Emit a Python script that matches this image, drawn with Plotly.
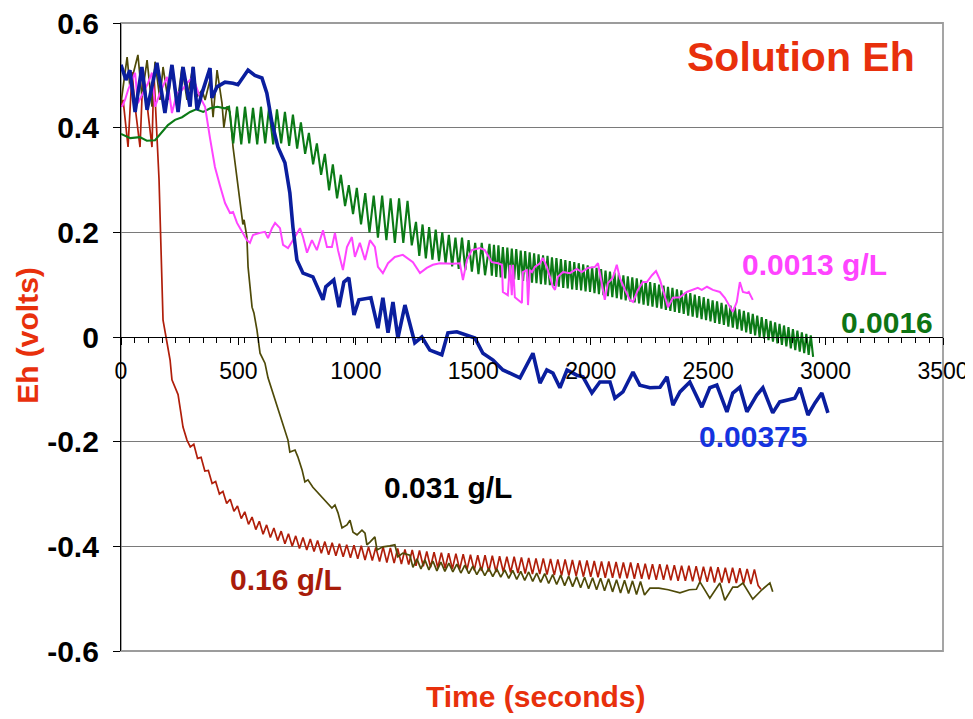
import plotly.graph_objects as go

# ---------------- data (time in s, Eh in volts) ----------------
x_ticks = [0, 500, 1000, 1500, 2000, 2500, 3000, 3500]
x_tick_labels = ["0", "500", "1000", "1500", "2000", "2500", "3000", "3500"]
y_ticks = [0.6, 0.4, 0.2, 0.0, -0.2, -0.4, -0.6]
y_tick_labels = ["0.6", "0.4", "0.2", "0", "-0.2", "-0.4", "-0.6"]

series_names = ["0.16 g/L", "0.031 g/L", "0.0016 g/L", "0.0013 g/L", "0.00375 g/L"]

blue_pts = [
    (0, 0.52), (21, 0.491), (38, 0.51), (60, 0.43), (89, 0.516), (111, 0.434), (153, 0.524),
    (187, 0.428), (217, 0.52), (243, 0.43), (264, 0.516), (294, 0.44), (307, 0.516), (324, 0.434),
    (345, 0.466), (379, 0.514), (387, 0.457), (409, 0.478), (443, 0.487), (477, 0.485), (498, 0.482),
    (541, 0.51), (570, 0.50), (600, 0.495), (621, 0.466), (643, 0.409), (668, 0.363), (698, 0.333),
    (719, 0.275), (732, 0.21), (749, 0.147), (775, 0.122), (817, 0.115), (860, 0.071), (872, 0.096),
    (906, 0.109), (928, 0.057), (949, 0.105), (970, 0.113), (992, 0.042), (1013, 0.071), (1064, 0.075),
    (1094, 0.017), (1115, 0.075), (1137, 0.008), (1158, 0.067), (1179, -0.002), (1209, 0.061),
    (1251, -0.011), (1281, 0.0), (1315, -0.025), (1366, -0.034), (1392, 0.008), (1430, 0.01),
    (1507, -0.002), (1541, -0.031), (1584, -0.044), (1626, -0.063), (1699, -0.078), (1728, -0.054),
    (1754, -0.031), (1784, -0.088), (1813, -0.063), (1839, -0.069), (1869, -0.097), (1899, -0.063),
    (1941, -0.073), (1967, -0.076), (2005, -0.107), (2039, -0.086), (2082, -0.086), (2103, -0.117),
    (2137, -0.105), (2180, -0.067), (2209, -0.092), (2252, -0.097), (2295, -0.096), (2325, -0.076),
    (2350, -0.130), (2380, -0.105), (2422, -0.086), (2473, -0.134), (2507, -0.097), (2537, -0.092),
    (2580, -0.143), (2605, -0.107), (2635, -0.096), (2665, -0.143), (2707, -0.111), (2733, -0.097),
    (2775, -0.145), (2805, -0.124), (2869, -0.117), (2891, -0.097), (2925, -0.149), (2955, -0.126),
    (2984, -0.107), (3010, -0.145),
]

magenta_pts = [
    (4, 0.44), (17, 0.453), (30, 0.472), (60, 0.505), (72, 0.447), (94, 0.466), (115, 0.485),
    (132, 0.505), (145, 0.44), (166, 0.466), (196, 0.497), (217, 0.428), (238, 0.466), (260, 0.472),
    (281, 0.485), (302, 0.495), (315, 0.485), (336, 0.459), (358, 0.44), (379, 0.38), (400, 0.325),
    (421, 0.29), (443, 0.256), (464, 0.237), (477, 0.239), (494, 0.218), (515, 0.201), (536, 0.185),
    (549, 0.18), (562, 0.195), (592, 0.199), (613, 0.201), (626, 0.189), (643, 0.208), (656, 0.218),
    (677, 0.208), (690, 0.176), (711, 0.17), (732, 0.185), (762, 0.208), (775, 0.191), (792, 0.161),
    (813, 0.185), (834, 0.166), (860, 0.204), (877, 0.172), (898, 0.172), (911, 0.199), (924, 0.166),
    (945, 0.128), (962, 0.172), (983, 0.191), (996, 0.153), (1017, 0.18), (1039, 0.147), (1060, 0.185),
    (1081, 0.172), (1094, 0.134), (1115, 0.122), (1137, 0.141), (1166, 0.153), (1200, 0.157),
    (1243, 0.143), (1273, 0.122), (1302, 0.132), (1328, 0.138), (1358, 0.141), (1413, 0.14),
    (1443, 0.141), (1456, 0.109), (1473, 0.147), (1494, 0.166), (1528, 0.17), (1549, 0.166),
    (1579, 0.143), (1605, 0.141), (1622, 0.138), (1626, 0.086), (1647, 0.080), (1656, 0.138),
    (1664, 0.080), (1669, 0.138), (1677, 0.076), (1690, 0.071), (1707, 0.065), (1711, 0.124),
    (1728, 0.128), (1733, 0.061), (1741, 0.128), (1750, 0.124), (1762, 0.134), (1784, 0.141),
    (1796, 0.151), (1813, 0.134), (1826, 0.113), (1839, 0.096), (1848, 0.09), (1860, 0.115),
    (1882, 0.124), (1911, 0.122), (1941, 0.13), (1962, 0.124), (1988, 0.132), (2018, 0.134),
    (2031, 0.141), (2048, 0.103), (2060, 0.071), (2073, 0.103), (2094, 0.113), (2111, 0.138),
    (2124, 0.113), (2146, 0.09), (2167, 0.071), (2180, 0.067), (2201, 0.09), (2222, 0.105),
    (2239, 0.105), (2261, 0.118), (2278, 0.126), (2295, 0.109), (2307, 0.09), (2329, 0.057),
    (2350, 0.075), (2380, 0.076), (2409, 0.086), (2435, 0.09), (2456, 0.094), (2473, 0.09),
    (2495, 0.096), (2520, 0.09), (2550, 0.086), (2571, 0.075), (2592, 0.057), (2605, 0.048),
    (2622, 0.067), (2635, 0.105), (2648, 0.086), (2665, 0.084), (2673, 0.086), (2690, 0.071),
]

green_pts = [
    (0, 0.388), (40, 0.38), (80, 0.382), (110, 0.375), (145, 0.376), (170, 0.39), (200, 0.405),
    (230, 0.415), (260, 0.42), (294, 0.43), (320, 0.435), (350, 0.43), (380, 0.437), (410, 0.44),
    (443, 0.437),
    (460, .44), (478, .37), (494, .44), (512, .368), (528, .44), (546, .37), (562, .438), (580, .368),
    (596, .44), (614, .37), (630, .437), (648, .368), (664, .435), (682, .37), (698, .43), (716, .365),
    (732, .425), (750, .36), (766, .41), (784, .35), (800, .39), (818, .33), (834, .37), (852, .31),
    (868, .35), (886, .28), (902, .33), (920, .265), (936, .31), (954, .25), (970, .29), (988, .235),
    (1004, .285), (1022, .215), (1040, .275), (1058, .20), (1076, .27), (1094, .19), (1112, .27),
    (1130, .185), (1148, .265), (1166, .18), (1184, .265), (1202, .18), (1220, .26), (1238, .175),
    (1256, .22), (1270, .155), (1284, .215), (1298, .15), (1312, .21), (1326, .148), (1340, .205),
    (1354, .145), (1368, .20), (1382, .14), (1396, .195), (1410, .135), (1424, .19), (1438, .13),
    (1452, .19), (1466, .128), (1480, .185), (1494, .125), (1508, .18), (1522, .12), (1536, .18),
    (1550, .118),
    (1569, .178), (1579, .117), (1588, .176), (1598, .115), (1607, .175), (1617, .114), (1626, .172),
    (1636, .112), (1645, .171), (1655, .111), (1664, .169), (1674, .110), (1683, .168), (1693, .109),
    (1702, .165), (1712, .107), (1721, .164), (1731, .106), (1740, .162), (1750, .104), (1759, .160),
    (1769, .103), (1778, .158), (1788, .101), (1797, .156), (1807, .100), (1816, .155), (1826, .099),
    (1835, .152), (1845, .097), (1854, .151), (1864, .096), (1873, .149), (1883, .094), (1892, .147),
    (1902, .093), (1911, .145), (1921, .091), (1930, .143), (1940, .090), (1949, .141), (1959, .089),
    (1968, .139), (1978, .087), (1987, .137), (1997, .086), (2006, .134), (2016, .084), (2025, .132),
    (2035, .082), (2044, .130), (2054, .080), (2063, .127), (2073, .078), (2082, .125), (2092, .076),
    (2101, .123), (2111, .074), (2120, .121), (2130, .072), (2139, .118), (2149, .070), (2158, .116),
    (2168, .068), (2177, .114), (2187, .066), (2196, .112), (2206, .064), (2215, .109), (2225, .062),
    (2234, .107), (2244, .060), (2253, .105), (2263, .058), (2272, .103), (2282, .056), (2291, .100),
    (2301, .054), (2310, .098), (2320, .052), (2329, .096), (2339, .050), (2348, .094), (2358, .048),
    (2367, .091), (2377, .046), (2386, .089), (2396, .044), (2405, .086), (2415, .041), (2424, .084),
    (2434, .039), (2443, .081), (2453, .037), (2462, .078), (2472, .034), (2481, .076), (2491, .032),
    (2500, .073), (2510, .030), (2519, .070), (2529, .027), (2538, .068), (2548, .025), (2557, .065),
    (2567, .023), (2576, .062), (2586, .020), (2595, .060), (2605, .018), (2614, .057), (2624, .015),
    (2633, .053), (2643, .012), (2652, .050), (2662, .009), (2671, .047), (2681, .006), (2690, .044),
    (2700, .003), (2709, .041), (2719, .000), (2728, .038), (2738, -.003), (2747, .034), (2757, -.006),
    (2766, .031), (2776, -.009), (2785, .028), (2795, -.012), (2804, .025), (2814, -.015), (2823, .022),
    (2833, -.018), (2842, .019), (2852, -.022), (2861, .015), (2871, -.025), (2880, .012), (2890, -.028),
    (2899, .009), (2909, -.031), (2918, .006), (2928, -.034), (2937, .003), (2947, -.038),
]

red_pts = [
    (0, 0.44), (9, 0.453), (30, 0.363), (47, 0.506), (60, 0.44), (81, 0.363), (94, 0.51),
    (115, 0.434), (132, 0.363), (140, 0.506), (153, 0.39), (162, 0.30), (166, 0.237), (170, 0.172),
    (175, 0.096), (179, 0.032), (196, -0.011), (209, -0.044), (217, -0.082), (243, -0.11),
    (255, -0.145), (264, -0.172), (281, -0.197), (295, -0.21),
    (310, -.205), (326, -.232), (341, -.230), (357, -.256), (372, -.255), (388, -.280), (403, -.276),
    (419, -.300), (434, -.295), (450, -.318), (465, -.310), (481, -.333), (496, -.323), (512, -.347),
    (527, -.334), (543, -.358), (558, -.344), (574, -.368), (589, -.352), (605, -.377), (620, -.359),
    (636, -.383), (651, -.365), (667, -.389), (682, -.371), (698, -.395), (713, -.376), (729, -.400),
    (744, -.380), (760, -.404), (775, -.383), (791, -.407), (806, -.386), (822, -.410), (837, -.389),
    (853, -.413), (868, -.391), (884, -.416), (899, -.393), (915, -.418), (930, -.395), (946, -.420),
    (961, -.397), (977, -.422), (992, -.398), (1008, -.424), (1023, -.399), (1039, -.426),
    (1054, -.401), (1070, -.427), (1085, -.402), (1101, -.429), (1116, -.401), (1132, -.431),
    (1147, -.403), (1163, -.432), (1178, -.404), (1194, -.434), (1209, -.406), (1225, -.435),
    (1240, -.407), (1256, -.437), (1271, -.408), (1287, -.438), (1302, -.410), (1318, -.440),
    (1333, -.411), (1349, -.441), (1364, -.412), (1380, -.442), (1395, -.413), (1411, -.443),
    (1426, -.414), (1442, -.444), (1457, -.415), (1473, -.445), (1488, -.416), (1504, -.446),
    (1519, -.417), (1535, -.447), (1550, -.417), (1566, -.448), (1581, -.418), (1597, -.449),
    (1612, -.419), (1628, -.449), (1643, -.420), (1659, -.450), (1674, -.420), (1690, -.451),
    (1705, -.421), (1721, -.452), (1736, -.422), (1752, -.453), (1767, -.423), (1783, -.453),
    (1798, -.423), (1814, -.454), (1829, -.424), (1845, -.455), (1860, -.425), (1876, -.456),
    (1891, -.425), (1907, -.456), (1922, -.426), (1938, -.457), (1953, -.427), (1969, -.458),
    (1984, -.427), (2000, -.458), (2015, -.428), (2031, -.459), (2046, -.429), (2062, -.460),
    (2077, -.429), (2093, -.460), (2108, -.430), (2124, -.461), (2139, -.431), (2155, -.461),
    (2170, -.431), (2186, -.462), (2201, -.432), (2217, -.462), (2232, -.433), (2248, -.463),
    (2263, -.434), (2279, -.464), (2294, -.434), (2310, -.464), (2325, -.435), (2341, -.465),
    (2356, -.436), (2372, -.466), (2387, -.437), (2403, -.466), (2418, -.437), (2434, -.467),
    (2449, -.438), (2465, -.468), (2480, -.439), (2496, -.468), (2511, -.439), (2527, -.469),
    (2542, -.440), (2558, -.469), (2573, -.441), (2589, -.470), (2604, -.441), (2620, -.470),
    (2635, -.442), (2651, -.471), (2666, -.443), (2682, -.472), (2697, -.444), (2713, -.475),
    (2725, -.482),
]

olive_pts = [
    (0, 0.447), (26, 0.535), (38, 0.478), (72, 0.539), (89, 0.459), (111, 0.529), (132, 0.44),
    (145, 0.526), (166, 0.453), (179, 0.516), (200, 0.453), (217, 0.516), (238, 0.44), (260, 0.516),
    (281, 0.453), (306, 0.516), (324, 0.459), (345, 0.472), (358, 0.453), (379, 0.491), (392, 0.42),
    (409, 0.51), (430, 0.447), (438, 0.40), (451, 0.44), (464, 0.43), (477, 0.363), (494, 0.30),
    (507, 0.248), (519, 0.215), (524, 0.224), (536, 0.191), (541, 0.134), (558, 0.057), (566, 0.046),
    (579, 0.013), (592, -0.031), (613, -0.05), (626, -0.078), (656, -0.12), (690, -0.165),
    (711, -0.197), (719, -0.22), (741, -0.216), (753, -0.229), (771, -0.254), (783, -0.277),
    (796, -0.273), (817, -0.287), (847, -0.302), (877, -0.315), (898, -0.327), (911, -0.321),
    (924, -0.336), (941, -0.365), (962, -0.359), (975, -0.35), (988, -0.373), (1005, -0.378),
    (1026, -0.369), (1039, -0.375), (1047, -0.397), (1060, -0.392), (1081, -0.382), (1090, -0.407),
    (1103, -0.403), (1115, -0.401), (1145, -0.399), (1166, -0.397), (1179, -0.42), (1200, -0.413),
    (1230, -0.417), (1243, -0.44),
    (1260, -.424), (1277, -.443), (1294, -.426), (1311, -.445), (1328, -.428), (1345, -.447),
    (1362, -.430), (1379, -.448), (1396, -.432), (1413, -.449), (1430, -.434), (1447, -.451),
    (1464, -.436), (1481, -.452), (1498, -.438), (1515, -.454), (1532, -.440), (1549, -.456),
    (1566, -.442), (1583, -.458), (1600, -.443), (1617, -.459), (1634, -.445), (1651, -.461),
    (1668, -.446), (1685, -.463), (1702, -.448), (1719, -.465), (1736, -.449), (1753, -.467),
    (1770, -.451), (1787, -.469), (1804, -.452), (1821, -.471), (1838, -.454), (1855, -.473),
    (1872, -.455), (1889, -.475), (1906, -.457), (1923, -.477), (1940, -.458), (1957, -.479),
    (1974, -.459), (1991, -.481), (2008, -.460), (2025, -.483), (2042, -.461), (2059, -.485),
    (2076, -.462), (2093, -.487), (2110, -.464), (2127, -.489), (2144, -.465), (2161, -.490),
    (2178, -.466), (2195, -.492), (2212, -.467), (2229, -.493),
    (2252, -0.480), (2290, -0.480), (2330, -0.483), (2380, -0.489), (2420, -0.483), (2450, -0.482),
    (2465, -0.468), (2507, -0.499), (2550, -0.470), (2571, -0.503), (2605, -0.478), (2625, -0.478),
    (2648, -0.470), (2690, -0.501), (2729, -0.483), (2763, -0.470), (2775, -0.487),
]

# ---------------- figure ----------------
RED_TXT = "#E8300C"
FONT = "Liberation Sans, Arial, sans-serif"

fig = go.Figure()

def add(pts, color, width, name):
    fig.add_trace(go.Scatter(
        x=[p[0] for p in pts], y=[p[1] for p in pts], mode="lines", name=name,
        line=dict(color=color, width=width), showlegend=False, hoverinfo="skip"))

add(red_pts, "#B01E0A", 1.7, series_names[0])
add(olive_pts, "#4E4A08", 1.7, series_names[1])
add(green_pts, "#0B7A16", 2.1, series_names[2])
add(magenta_pts, "#FF44FF", 2.0, series_names[3])
add(blue_pts, "#0A1E9E", 3.6, series_names[4])

# page body has an 8px default margin, so the figure is 8px smaller than the window
fig.update_layout(
    width=965, height=711,
    margin=dict(l=113, r=30, t=15, b=68, autoexpand=False),
    paper_bgcolor="white", plot_bgcolor="white",
    font=dict(family=FONT, color="black"),
    xaxis=dict(
        range=[0, 3500], tickmode="array", tickvals=x_ticks, ticktext=x_tick_labels,
        tickfont=dict(size=23, family=FONT, color="black"),
        ticks="outside", ticklen=7, tickwidth=1.2, tickcolor="black",
        showline=True, linecolor="black", linewidth=1.3,
        anchor="free", position=0.5, showgrid=False, zeroline=False,
        ticklabelstandoff=6, automargin=False, ticklabeloverflow="allow",
        minor=dict(ticks="outside", ticklen=5, tickwidth=1, tickcolor="black",
                   tick0=0, dtick=3500 / 60, showgrid=False),
    ),
    yaxis=dict(
        range=[-0.6, 0.6], tickmode="array", tickvals=y_ticks,
        ticktext=["<b>%s</b>" % s for s in y_tick_labels],
        tickfont=dict(size=30, family=FONT, color="black"),
        ticks="outside", ticklen=7, tickwidth=1.2, tickcolor="black",
        showline=True, linecolor="black", linewidth=1.3,
        showgrid=True, gridcolor="#7a7a7a", gridwidth=1.2, zeroline=False,
        ticklabelstandoff=8, automargin=False, ticklabeloverflow="allow",
    ),
    shapes=[dict(type="rect", xref="paper", yref="paper", x0=0, x1=1, y0=0, y1=1,
                 line=dict(color="#9c9c9c", width=1.8), layer="below")],
)

ann = [
    dict(text="<b>Solution Eh</b>", xref="paper", yref="paper", x=0.827, y=0.946,
         font=dict(size=41, color=RED_TXT)),
    dict(text="<b>Eh (volts)</b>", xref="paper", yref="paper", x=-0.113, y=0.502,
         textangle=-90, font=dict(size=30, color=RED_TXT)),
    dict(text="<b>Time (seconds)</b>", xref="paper", yref="paper", x=0.505, y=-0.073,
         font=dict(size=30, color=RED_TXT)),
    dict(text="<b>0.0013 g/L</b>", x=2954, y=0.138, font=dict(size=30, color="#FF44FF")),
    dict(text="<b>0.0016</b>", x=3261, y=0.027, font=dict(size=30, color="#0E7414")),
    dict(text="<b>0.00375</b>", x=2690, y=-0.191, font=dict(size=30, color="#1433E0")),
    dict(text="<b>0.031 g/L</b>", x=1392, y=-0.287, font=dict(size=30, color="black")),
    dict(text="<b>0.16 g/L</b>", x=702, y=-0.464, font=dict(size=30, color="#A81C0A")),
]
for a in ann:
    a.setdefault("xref", "x")
    a.setdefault("yref", "y")
    a.update(showarrow=False, xanchor="center", yanchor="middle")
    a["font"]["family"] = FONT
    fig.add_annotation(**a)

fig.write_html("out.html")
